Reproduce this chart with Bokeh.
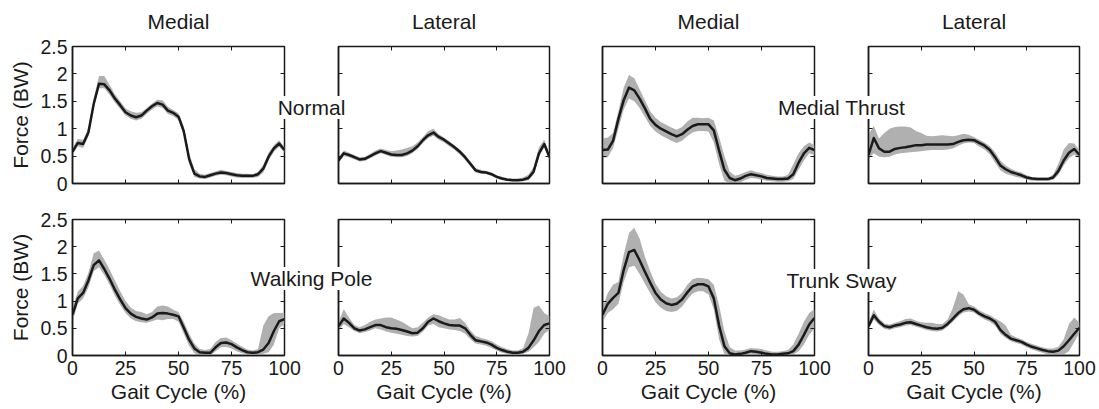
from bokeh.plotting import figure
from bokeh.models import Range1d, LinearAxis, FixedTicker, NumeralTickFormatter, Label
from bokeh.layouts import row, column
from bokeh.embed import file_html
from bokeh.resources import INLINE

# ---------------- data ----------------
gait_pct = [0, 2.5, 5, 7.5, 10, 12.5, 15, 17.5, 20, 22.5, 25, 27.5, 30, 32.5, 35, 37.5,
            40, 42.5, 45, 47.5, 50, 52.5, 55, 57.5, 60, 62.5, 65, 67.5, 70, 72.5, 75,
            77.5, 80, 82.5, 85, 87.5, 90, 92.5, 95, 97.5, 100]

x_ticks = [0, 25, 50, 75, 100]
y_ticks = [0, 0.5, 1, 1.5, 2, 2.5]
column_titles = ["Medial", "Lateral", "Medial", "Lateral"]
condition_labels = ["Normal", "Medial Thrust", "Walking Pole", "Trunk Sway"]
x_label = "Gait Cycle (%)"
y_label = "Force (BW)"

normal_medial_mean = [0.58, 0.74, 0.72, 0.93, 1.45, 1.82, 1.81, 1.70, 1.55, 1.43, 1.30, 1.24, 1.21, 1.24, 1.33, 1.41, 1.47, 1.44, 1.33, 1.29, 1.22, 0.95, 0.45, 0.18, 0.13, 0.12, 0.15, 0.18, 0.20, 0.19, 0.17, 0.15, 0.14, 0.14, 0.14, 0.17, 0.27, 0.49, 0.64, 0.73, 0.61]
normal_medial_lo = [0.52, 0.68, 0.65, 0.86, 1.38, 1.74, 1.74, 1.62, 1.48, 1.36, 1.24, 1.18, 1.15, 1.18, 1.27, 1.35, 1.41, 1.38, 1.27, 1.23, 1.16, 0.88, 0.36, 0.12, 0.09, 0.08, 0.11, 0.14, 0.16, 0.15, 0.13, 0.11, 0.10, 0.10, 0.10, 0.12, 0.20, 0.42, 0.58, 0.67, 0.56]
normal_medial_hi = [0.65, 0.81, 0.80, 1.01, 1.55, 1.96, 1.96, 1.80, 1.63, 1.50, 1.37, 1.32, 1.29, 1.30, 1.38, 1.46, 1.53, 1.52, 1.40, 1.34, 1.28, 1.04, 0.55, 0.26, 0.18, 0.16, 0.19, 0.22, 0.25, 0.23, 0.21, 0.19, 0.18, 0.18, 0.17, 0.21, 0.34, 0.56, 0.70, 0.79, 0.66]

normal_lateral_mean = [0.42, 0.55, 0.52, 0.48, 0.44, 0.45, 0.50, 0.55, 0.59, 0.56, 0.53, 0.52, 0.52, 0.55, 0.60, 0.68, 0.79, 0.88, 0.93, 0.85, 0.80, 0.73, 0.66, 0.58, 0.48, 0.36, 0.24, 0.21, 0.20, 0.17, 0.12, 0.09, 0.07, 0.06, 0.06, 0.07, 0.10, 0.22, 0.55, 0.72, 0.48]
normal_lateral_lo = [0.37, 0.50, 0.48, 0.44, 0.40, 0.41, 0.46, 0.51, 0.55, 0.52, 0.49, 0.48, 0.48, 0.50, 0.55, 0.63, 0.74, 0.83, 0.87, 0.80, 0.75, 0.68, 0.61, 0.53, 0.43, 0.31, 0.20, 0.18, 0.17, 0.14, 0.09, 0.06, 0.05, 0.04, 0.04, 0.04, 0.06, 0.16, 0.48, 0.66, 0.44]
normal_lateral_hi = [0.47, 0.60, 0.56, 0.52, 0.48, 0.49, 0.54, 0.60, 0.64, 0.61, 0.59, 0.60, 0.62, 0.65, 0.68, 0.75, 0.85, 0.96, 1.00, 0.90, 0.84, 0.77, 0.70, 0.62, 0.52, 0.40, 0.28, 0.25, 0.23, 0.20, 0.15, 0.12, 0.10, 0.09, 0.09, 0.11, 0.16, 0.30, 0.66, 0.80, 0.54]

thrust_medial_mean = [0.61, 0.62, 0.78, 1.18, 1.52, 1.75, 1.70, 1.55, 1.37, 1.18, 1.07, 1.00, 0.95, 0.90, 0.86, 0.90, 0.98, 1.05, 1.08, 1.08, 1.08, 0.97, 0.60, 0.25, 0.10, 0.06, 0.09, 0.14, 0.17, 0.15, 0.13, 0.10, 0.09, 0.08, 0.08, 0.09, 0.17, 0.38, 0.55, 0.65, 0.61]
thrust_medial_lo = [0.47, 0.48, 0.65, 1.00, 1.35, 1.55, 1.50, 1.38, 1.22, 1.05, 0.95, 0.88, 0.83, 0.78, 0.74, 0.78, 0.86, 0.93, 0.96, 0.96, 0.95, 0.75, 0.35, 0.05, 0.00, 0.00, 0.02, 0.07, 0.10, 0.09, 0.07, 0.05, 0.04, 0.03, 0.03, 0.04, 0.08, 0.25, 0.42, 0.55, 0.52]
thrust_medial_hi = [0.82, 0.84, 0.92, 1.32, 1.75, 1.98, 1.92, 1.72, 1.52, 1.32, 1.20, 1.12, 1.07, 1.02, 0.98, 1.03, 1.13, 1.20, 1.20, 1.19, 1.20, 1.15, 0.85, 0.50, 0.22, 0.14, 0.17, 0.21, 0.24, 0.21, 0.19, 0.16, 0.14, 0.13, 0.13, 0.16, 0.35, 0.55, 0.68, 0.75, 0.70]

thrust_lateral_mean = [0.52, 0.83, 0.64, 0.58, 0.58, 0.63, 0.65, 0.66, 0.68, 0.70, 0.70, 0.71, 0.71, 0.71, 0.71, 0.71, 0.72, 0.76, 0.79, 0.80, 0.79, 0.74, 0.69, 0.61, 0.48, 0.33, 0.26, 0.21, 0.18, 0.15, 0.11, 0.09, 0.08, 0.08, 0.08, 0.11, 0.23, 0.42, 0.56, 0.63, 0.52]
thrust_lateral_lo = [0.45, 0.55, 0.49, 0.48, 0.49, 0.53, 0.55, 0.56, 0.57, 0.58, 0.59, 0.60, 0.61, 0.61, 0.61, 0.62, 0.64, 0.69, 0.73, 0.75, 0.74, 0.67, 0.62, 0.53, 0.38, 0.24, 0.18, 0.15, 0.12, 0.10, 0.07, 0.05, 0.05, 0.05, 0.05, 0.07, 0.16, 0.33, 0.46, 0.53, 0.45]
thrust_lateral_hi = [0.90, 1.05, 0.82, 0.92, 1.00, 1.03, 1.04, 1.04, 1.02, 0.96, 0.92, 0.87, 0.86, 0.87, 0.88, 0.87, 0.86, 0.88, 0.91, 0.89, 0.85, 0.80, 0.75, 0.68, 0.57, 0.42, 0.33, 0.27, 0.23, 0.20, 0.15, 0.12, 0.11, 0.11, 0.11, 0.16, 0.36, 0.62, 0.74, 0.73, 0.60]

pole_medial_mean = [0.75, 1.05, 1.15, 1.38, 1.66, 1.75, 1.59, 1.41, 1.21, 1.03, 0.87, 0.77, 0.71, 0.68, 0.66, 0.70, 0.77, 0.78, 0.77, 0.75, 0.72, 0.51, 0.29, 0.13, 0.06, 0.05, 0.05, 0.15, 0.23, 0.24, 0.21, 0.15, 0.10, 0.06, 0.05, 0.06, 0.11, 0.23, 0.45, 0.63, 0.67]
pole_medial_lo = [0.62, 0.95, 1.05, 1.25, 1.55, 1.62, 1.48, 1.30, 1.10, 0.93, 0.78, 0.68, 0.63, 0.61, 0.60, 0.63, 0.66, 0.65, 0.67, 0.67, 0.62, 0.40, 0.18, 0.04, 0.00, 0.00, 0.00, 0.08, 0.15, 0.16, 0.13, 0.08, 0.04, 0.02, 0.02, 0.02, 0.03, 0.06, 0.20, 0.50, 0.58]
pole_medial_hi = [0.88, 1.17, 1.28, 1.52, 1.88, 1.93, 1.76, 1.58, 1.38, 1.18, 1.00, 0.88, 0.82, 0.80, 0.76, 0.80, 0.90, 0.92, 0.90, 0.84, 0.80, 0.62, 0.40, 0.22, 0.12, 0.10, 0.12, 0.25, 0.32, 0.33, 0.28, 0.22, 0.16, 0.11, 0.09, 0.12, 0.55, 0.72, 0.78, 0.78, 0.78]

pole_lateral_mean = [0.54, 0.68, 0.60, 0.50, 0.46, 0.48, 0.52, 0.56, 0.56, 0.52, 0.50, 0.49, 0.47, 0.44, 0.41, 0.42, 0.50, 0.62, 0.68, 0.63, 0.59, 0.56, 0.55, 0.55, 0.50, 0.38, 0.28, 0.26, 0.24, 0.20, 0.14, 0.10, 0.07, 0.05, 0.05, 0.07, 0.14, 0.28, 0.45, 0.56, 0.59]
pole_lateral_lo = [0.45, 0.58, 0.52, 0.45, 0.41, 0.43, 0.46, 0.50, 0.48, 0.44, 0.42, 0.40, 0.38, 0.36, 0.35, 0.36, 0.44, 0.55, 0.58, 0.52, 0.50, 0.48, 0.47, 0.45, 0.40, 0.30, 0.22, 0.20, 0.18, 0.14, 0.09, 0.05, 0.03, 0.02, 0.02, 0.03, 0.07, 0.15, 0.25, 0.40, 0.47]
pole_lateral_hi = [0.62, 0.85, 0.70, 0.56, 0.52, 0.56, 0.62, 0.66, 0.68, 0.70, 0.70, 0.66, 0.62, 0.56, 0.50, 0.52, 0.60, 0.70, 0.76, 0.74, 0.70, 0.66, 0.66, 0.69, 0.60, 0.46, 0.36, 0.32, 0.30, 0.26, 0.20, 0.15, 0.12, 0.09, 0.09, 0.14, 0.40, 0.88, 0.92, 0.78, 0.72]

sway_medial_mean = [0.75, 0.95, 1.06, 1.15, 1.57, 1.90, 1.94, 1.75, 1.54, 1.34, 1.15, 1.03, 0.96, 0.93, 0.95, 1.03, 1.16, 1.27, 1.31, 1.31, 1.27, 1.05, 0.55, 0.17, 0.04, 0.02, 0.03, 0.05, 0.08, 0.07, 0.05, 0.03, 0.02, 0.02, 0.03, 0.04, 0.08, 0.20, 0.38, 0.57, 0.69]
sway_medial_lo = [0.62, 0.78, 0.85, 0.95, 1.35, 1.62, 1.65, 1.50, 1.32, 1.15, 0.98, 0.88, 0.82, 0.80, 0.82, 0.90, 1.03, 1.14, 1.18, 1.18, 1.12, 0.85, 0.30, 0.03, 0.00, 0.00, 0.00, 0.01, 0.03, 0.02, 0.01, 0.00, 0.00, 0.00, 0.00, 0.00, 0.02, 0.08, 0.20, 0.38, 0.50]
sway_medial_hi = [0.88, 1.15, 1.30, 1.35, 1.85, 2.25, 2.35, 2.15, 1.82, 1.55, 1.32, 1.17, 1.09, 1.05, 1.07, 1.15, 1.30, 1.40, 1.43, 1.42, 1.40, 1.30, 0.92, 0.45, 0.15, 0.09, 0.09, 0.11, 0.14, 0.13, 0.12, 0.09, 0.07, 0.07, 0.08, 0.10, 0.20, 0.40, 0.62, 0.78, 0.85]

sway_lateral_mean = [0.54, 0.74, 0.62, 0.54, 0.52, 0.55, 0.57, 0.60, 0.61, 0.58, 0.55, 0.52, 0.50, 0.49, 0.51, 0.58, 0.68, 0.78, 0.85, 0.87, 0.84, 0.77, 0.72, 0.68, 0.62, 0.47, 0.38, 0.31, 0.28, 0.25, 0.20, 0.16, 0.13, 0.10, 0.08, 0.07, 0.09, 0.17, 0.28, 0.40, 0.51]
sway_lateral_lo = [0.48, 0.66, 0.56, 0.49, 0.47, 0.50, 0.52, 0.55, 0.56, 0.53, 0.50, 0.47, 0.45, 0.44, 0.46, 0.53, 0.62, 0.72, 0.79, 0.81, 0.79, 0.72, 0.66, 0.62, 0.55, 0.40, 0.32, 0.26, 0.23, 0.20, 0.15, 0.11, 0.08, 0.05, 0.02, 0.01, 0.01, 0.02, 0.08, 0.25, 0.42]
sway_lateral_hi = [0.62, 0.84, 0.68, 0.59, 0.57, 0.60, 0.63, 0.67, 0.68, 0.64, 0.61, 0.60, 0.60, 0.58, 0.58, 0.66, 0.88, 1.18, 1.12, 0.94, 0.90, 0.83, 0.78, 0.74, 0.68, 0.63, 0.55, 0.38, 0.33, 0.30, 0.25, 0.21, 0.18, 0.15, 0.13, 0.13, 0.16, 0.30, 0.58, 0.70, 0.60]

panels = [
    [(normal_medial_mean, normal_medial_lo, normal_medial_hi),
     (normal_lateral_mean, normal_lateral_lo, normal_lateral_hi),
     (thrust_medial_mean, thrust_medial_lo, thrust_medial_hi),
     (thrust_lateral_mean, thrust_lateral_lo, thrust_lateral_hi)],
    [(pole_medial_mean, pole_medial_lo, pole_medial_hi),
     (pole_lateral_mean, pole_lateral_lo, pole_lateral_hi),
     (sway_medial_mean, sway_medial_lo, sway_medial_hi),
     (sway_lateral_mean, sway_lateral_lo, sway_lateral_hi)],
]

# ---------------- styling / layout ----------------
FONT = "Liberation Sans"
INK = "#1a1a1a"
BAND = "#b0b0b0"
TICK_FS = "19.5px"
LABEL_FS = "21px"

# (width, min_border_left, min_border_right) per column
col_specs = [(311, 72, 27), (264, 27, 26), (266, 27, 27), (258, 27, 20)]
# (height, min_border_top, min_border_bottom) per row
row_specs = [(201, 46, 18), (208, 18, 54)]


def style_axis(ax, show_labels, show_line=True):
    ax.major_tick_in = 4
    ax.major_tick_out = 0
    ax.minor_tick_line_color = None
    ax.major_tick_line_color = INK
    ax.major_tick_line_width = 1
    ax.axis_line_color = INK if show_line else None
    ax.axis_line_width = 1.5
    ax.major_label_text_font = FONT
    ax.major_label_text_font_size = TICK_FS
    ax.major_label_text_color = INK if show_labels else None
    ax.major_label_standoff = 5
    ax.axis_label_text_font = FONT
    ax.axis_label_text_font_size = LABEL_FS
    ax.axis_label_text_font_style = "normal"
    ax.axis_label_text_color = INK


def make_panel(r, c, mean, lo, hi):
    w, mbl, mbr = col_specs[c]
    h, mbt, mbb = row_specs[r]
    p = figure(width=w, height=h,
               x_range=Range1d(0, 100), y_range=Range1d(0, 2.5),
               output_backend="svg", toolbar_location=None, title=None,
               min_border_left=mbl, min_border_right=mbr,
               min_border_top=mbt, min_border_bottom=mbb,
               background_fill_color="white", border_fill_color="white",
               outline_line_color=INK, outline_line_width=1.5)
    p.grid.visible = False

    p.varea(x=gait_pct, y1=lo, y2=hi, fill_color=BAND, fill_alpha=1.0)
    p.line(gait_pct, mean, line_color=INK, line_width=2.5, line_join="round")

    xa = p.xaxis[0]
    xa.ticker = FixedTicker(ticks=x_ticks)
    style_axis(xa, show_labels=(r == 1))
    if r == 1:
        xa.axis_label = x_label
        xa.axis_label_standoff = 2

    ya = p.yaxis[0]
    ya.ticker = FixedTicker(ticks=y_ticks)
    ya.formatter = NumeralTickFormatter(format="0.[0]")
    style_axis(ya, show_labels=(c == 0))
    if c == 0:
        ya.axis_label = y_label
        ya.axis_label_standoff = 5

    # top axis: mirrored ticks, carries the column heading on the first row
    top = LinearAxis(ticker=FixedTicker(ticks=x_ticks))
    style_axis(top, show_labels=False, show_line=False)
    if r == 0:
        top.axis_label = column_titles[c]
        top.axis_label_standoff = 14
    p.add_layout(top, "above")
    right = LinearAxis(ticker=FixedTicker(ticks=y_ticks))
    style_axis(right, show_labels=False, show_line=False)
    p.add_layout(right, "right")
    return p


rows = []
for r in range(2):
    figs = []
    for c in range(4):
        mean, lo, hi = panels[r][c]
        figs.append(make_panel(r, c, mean, lo, hi))
    rows.append(row(*figs))

TOTAL_W = sum(s[0] for s in col_specs)
TOTAL_H = sum(s[0] for s in row_specs)

# transparent overlay carrying the condition labels that straddle the panels
overlay = figure(width=TOTAL_W, height=TOTAL_H,
                 x_range=Range1d(0, TOTAL_W), y_range=Range1d(0, TOTAL_H),
                 output_backend="svg", toolbar_location=None, min_border=0,
                 x_axis_location=None, y_axis_location=None,
                 background_fill_color=None, border_fill_color=None,
                 outline_line_color=None)
overlay.grid.visible = False

label_pos = [(311, 302), (841, 302), (311, 131), (841, 129)]
for text, (lx, ly) in zip(condition_labels, label_pos):
    overlay.add_layout(Label(x=lx, y=ly, text=text, text_align="center",
                             text_baseline="middle", text_font=FONT,
                             text_font_size=LABEL_FS, text_color=INK,
                             background_fill_color="white"))
overlay.margin = (-TOTAL_H, 0, 0, 0)

layout = column(rows[0], rows[1], overlay)

with open("out.html", "w") as f:
    f.write(file_html(layout, INLINE))
